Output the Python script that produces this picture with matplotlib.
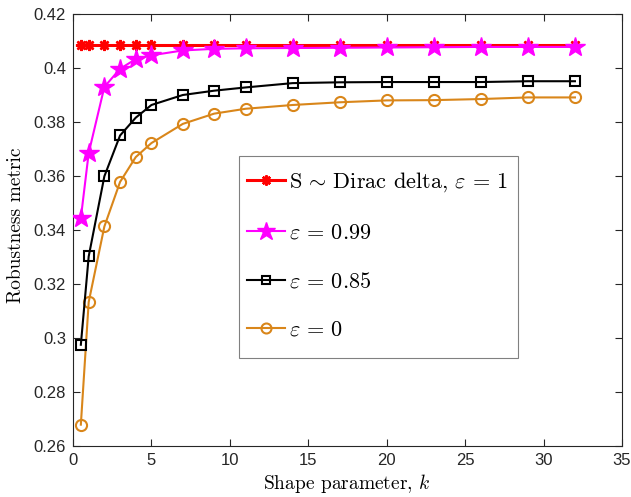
import matplotlib
matplotlib.use("Agg")
import matplotlib.pyplot as plt
from matplotlib.patches import Rectangle
from matplotlib.ticker import FuncFormatter

plt.rcParams["mathtext.fontset"] = "cm"

# valeurs
k_values = [0.5, 1, 2, 3, 4, 5, 7, 9, 11, 14, 17, 20, 23, 26, 29, 32]

dirac = [0.4084] * len(k_values)
eps_099 = [0.3444, 0.3685, 0.3930, 0.3997, 0.4033, 0.4047, 0.4065, 0.4071,
           0.4073, 0.4074, 0.4075, 0.4076, 0.4077, 0.4078, 0.4078, 0.4078]
eps_085 = [0.2975, 0.3302, 0.3599, 0.3750, 0.3816, 0.3863, 0.3900, 0.3916,
           0.3928, 0.3944, 0.3947, 0.3948, 0.3948, 0.3948, 0.3951, 0.3951]
eps_0 = [0.2679, 0.3133, 0.3413, 0.3578, 0.3670, 0.3722, 0.3793, 0.3831,
         0.3849, 0.3863, 0.3873, 0.3880, 0.3881, 0.3885, 0.3891, 0.3891]

x_ticks = [0, 5, 10, 15, 20, 25, 30, 35]
y_ticks = [0.26, 0.28, 0.30, 0.32, 0.34, 0.36, 0.38, 0.40, 0.42]

orange = "#d9861a"
serif = "cmr10"


def main() -> None:
    fig = plt.figure(figsize=(6.31, 4.97), dpi=100)
    ax = fig.add_axes([73 / 631, 1 - 446 / 497, 549 / 631, 432 / 497])

    ax.plot(k_values, eps_0, color=orange, linewidth=1.5, marker="o",
            markersize=8, markerfacecolor="none", markeredgewidth=1.5,
            label=r"$\varepsilon\,=\,0$", zorder=3)
    ax.plot(k_values, eps_085, color="black", linewidth=1.5, marker="s",
            markersize=6.5, markerfacecolor="none", markeredgewidth=1.5,
            label=r"$\varepsilon\,=\,0.85$", zorder=4)
    ax.plot(k_values, dirac, color="red", linewidth=2.2, marker=(8, 2, 0),
            markersize=8, markeredgewidth=1.8,
            label=r"S$\,\sim\,$Dirac delta, $\varepsilon\,=\,1$", zorder=5)
    ax.plot(k_values, eps_099, color="magenta", linewidth=1.5, marker="*",
            markersize=15, markeredgewidth=1.0,
            label=r"$\varepsilon\,=\,0.99$", zorder=6)

    ax.set_xlim(0, 35)
    ax.set_ylim(0.26, 0.42)
    ax.set_xticks(x_ticks)
    ax.set_yticks(y_ticks)
    ax.yaxis.set_major_formatter(FuncFormatter(lambda v, p: f"{v:g}"))
    ax.tick_params(direction="in", top=True, right=True, length=5,
                   width=0.8, labelsize=12, colors="#262626", pad=5)
    for lab in ax.get_xticklabels() + ax.get_yticklabels():
        lab.set_fontfamily("Liberation Sans")
    for sp in ax.spines.values():
        sp.set_linewidth(0.8)
        sp.set_color("#262626")

    ax.set_xlabel(r"Shape parameter, $k$", fontsize=14, family=serif)
    ax.set_ylabel("Robustness metric", fontsize=14, family=serif)
    ax.xaxis.set_label_coords(0.498, -0.06)
    ax.yaxis.set_label_coords(-0.088, 0.51)

    # cadre de la legende
    frame = Rectangle((0.3024, 0.2037), 0.5082, 0.4676,
                      transform=ax.transAxes, facecolor="white",
                      edgecolor="#808080", linewidth=0.8, zorder=7)
    ax.add_patch(frame)

    handles, labels = ax.get_legend_handles_labels()
    order = [2, 3, 1, 0]
    leg = ax.legend([handles[i] for i in order], [labels[i] for i in order],
                    loc="upper left", bbox_to_anchor=(0.317, 0.638),
                    borderaxespad=0, borderpad=0, frameon=False,
                    handlelength=1.7, handletextpad=0.2,
                    labelspacing=1.3, markerscale=0.9,
                    prop={"family": serif, "size": 16})
    leg.set_zorder(8)

    fig.savefig("out.png", dpi=100)


if __name__ == "__main__":
    main()
